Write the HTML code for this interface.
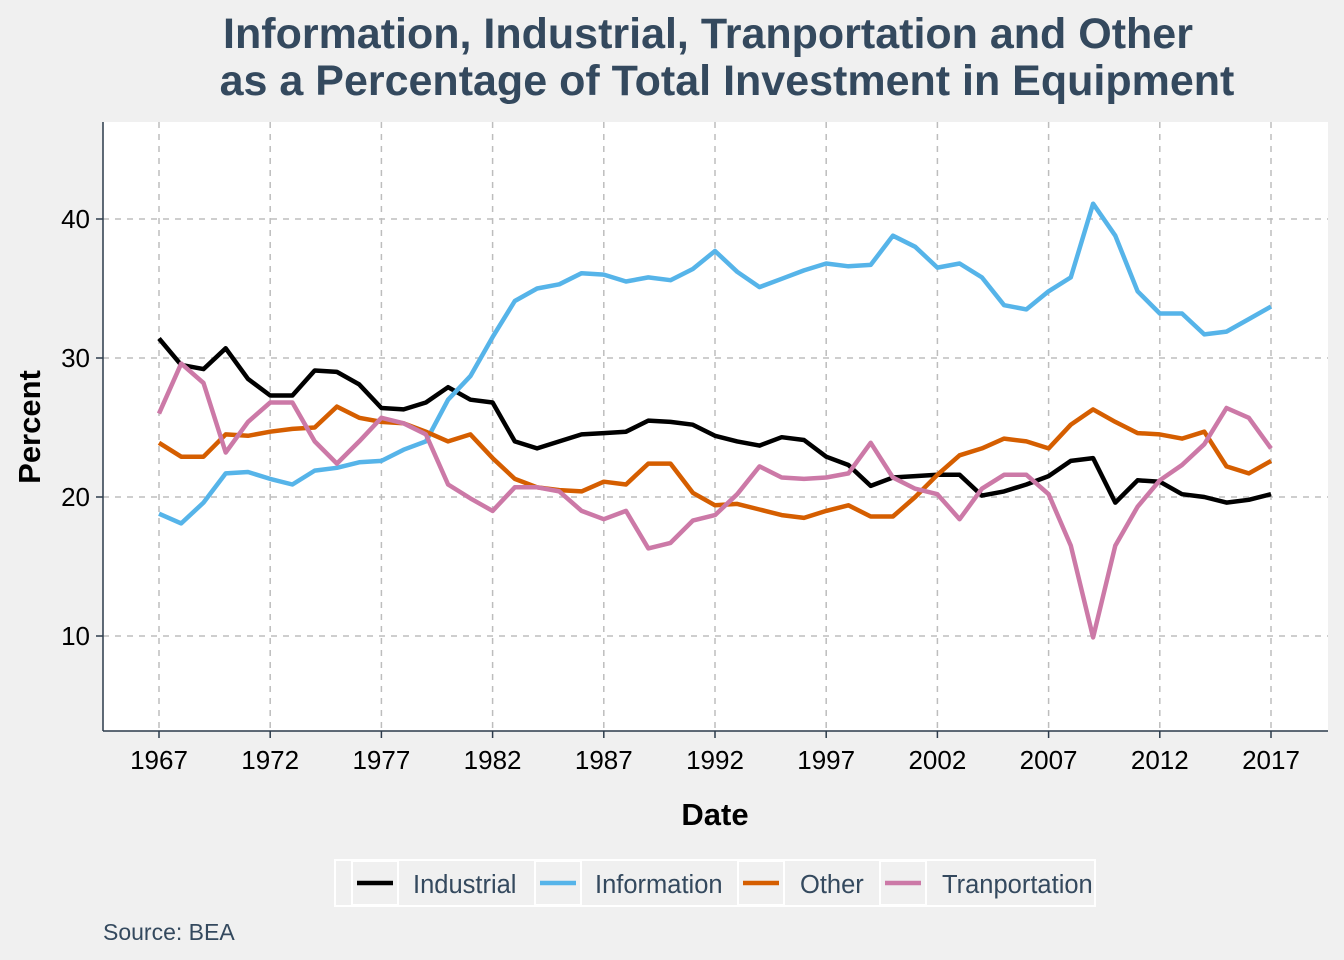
<!DOCTYPE html>
<html><head><meta charset="utf-8"><style>
html,body{margin:0;padding:0;background:#f0f0f0;}
svg{display:block;font-family:"Liberation Sans",Arial,sans-serif;}
</style></head><body>
<svg id="chart" width="1344" height="960" viewBox="0 0 1344 960">
<rect x="0" y="0" width="1344" height="960" fill="#f0f0f0"/>
<text x="708" y="48" text-anchor="middle" font-size="43" font-weight="bold" fill="#34495e">Information, Industrial, Tranportation and Other</text>
<text x="727" y="95" text-anchor="middle" font-size="43" font-weight="bold" fill="#34495e">as a Percentage of Total Investment in Equipment</text>
<rect x="103" y="122" width="1225" height="609" fill="#ffffff"/>
<g id="grid"></g>
<g id="series"></g>
<line x1="103" y1="122" x2="103" y2="731" stroke="#2b3a4a" stroke-width="1.5"/>
<line x1="103" y1="731" x2="1328" y2="731" stroke="#2b3a4a" stroke-width="1.5"/>
<g id="ticks"></g>
<text x="715" y="825" text-anchor="middle" font-size="31" font-weight="bold" fill="#000">Date</text>
<text transform="translate(40,427) rotate(-90)" text-anchor="middle" font-size="31" font-weight="bold" fill="#000">Percent</text>
<g id="legend"></g>
<text x="103" y="940" font-size="23" fill="#34495e">Source: BEA</text>
</svg>
<script>
const years = [];
for (let y = 1967; y <= 2017; y++) years.push(y);
const industrial = [31.4,29.5,29.2,30.7,28.5,27.3,27.3,29.1,29.0,28.1,26.4,26.3,26.8,27.9,27.0,26.8,24.0,23.5,24.0,24.5,24.6,24.7,25.5,25.4,25.2,24.4,24.0,23.7,24.3,24.1,22.9,22.3,20.8,21.4,21.5,21.6,21.6,20.1,20.4,20.9,21.5,22.6,22.8,19.6,21.2,21.1,20.2,20.0,19.6,19.8,20.2];
const information = [18.8,18.1,19.6,21.7,21.8,21.3,20.9,21.9,22.1,22.5,22.6,23.4,24.0,27.0,28.7,31.5,34.1,35.0,35.3,36.1,36.0,35.5,35.8,35.6,36.4,37.7,36.2,35.1,35.7,36.3,36.8,36.6,36.7,38.8,38.0,36.5,36.8,35.8,33.8,33.5,34.8,35.8,41.1,38.8,34.8,33.2,33.2,31.7,31.9,32.8,33.7];
const other = [23.9,22.9,22.9,24.5,24.4,24.7,24.9,25.0,26.5,25.7,25.4,25.3,24.7,24.0,24.5,22.8,21.3,20.7,20.5,20.4,21.1,20.9,22.4,22.4,20.3,19.4,19.5,19.1,18.7,18.5,19.0,19.4,18.6,18.6,20.0,21.6,23.0,23.5,24.2,24.0,23.5,25.2,26.3,25.4,24.6,24.5,24.2,24.7,22.2,21.7,22.6];
const transportation = [26.0,29.6,28.2,23.2,25.4,26.8,26.8,24.0,22.4,24.0,25.7,25.3,24.5,20.9,19.9,19.0,20.7,20.7,20.4,19.0,18.4,19.0,16.3,16.7,18.3,18.7,20.2,22.2,21.4,21.3,21.4,21.7,23.9,21.4,20.6,20.2,18.4,20.6,21.6,21.6,20.2,16.5,9.9,16.5,19.3,21.2,22.3,23.8,26.4,25.7,23.5];
const xTicks = [1967,1972,1977,1982,1987,1992,1997,2002,2007,2012,2017];
const yTicks = [10,20,30,40];
const seriesNames = ["Industrial","Information","Other","Tranportation"];
const seriesColors = ["#000000","#56b4e9","#d55e00","#cc79a7"];
const seriesData = [industrial, information, other, transportation];

const NS = "http://www.w3.org/2000/svg";
const xScale = y => 159 + (y - 1967) * (1271 - 159) / 50;
const yScale = v => 497 - (v - 20) * 13.9;
function mk(tag, attrs, parent) {
  const e = document.createElementNS(NS, tag);
  for (const k in attrs) e.setAttribute(k, attrs[k]);
  parent.appendChild(e);
  return e;
}
const grid = document.getElementById("grid");
const ticks = document.getElementById("ticks");
xTicks.forEach(t => {
  const l = mk("line", {x1: xScale(t), x2: xScale(t), y1: 122, y2: 731, stroke: "#bdbdbd", "stroke-width": 1.5, "stroke-dasharray": "6,6"}, grid);
  
  
  const tk = mk("line", {x1: xScale(t), x2: xScale(t), y1: 731, y2: 738, stroke: "#2b3a4a", "stroke-width": 1.5}, ticks);
  
  
  const tx = mk("text", {x: xScale(t), y: 769, "text-anchor": "middle", "font-size": 26, fill: "#000"}, ticks);
  tx.textContent = t;
  
  
});
yTicks.forEach(t => {
  const l = mk("line", {x1: 103, x2: 1328, y1: yScale(t), y2: yScale(t), stroke: "#bdbdbd", "stroke-width": 1.5, "stroke-dasharray": "6,6"}, grid);
  
  
  const tk = mk("line", {x1: 96, x2: 103, y1: yScale(t), y2: yScale(t), stroke: "#2b3a4a", "stroke-width": 1.5}, ticks);
  
  
  const tx = mk("text", {x: 90, y: yScale(t) + 9, "text-anchor": "end", "font-size": 26, fill: "#000"}, ticks);
  tx.textContent = t;
  
  
});
const sg = document.getElementById("series");
seriesData.forEach((d, i) => {
  const pts = d.map((v, j) => xScale(years[j]).toFixed(1) + "," + yScale(v).toFixed(1)).join(" ");
  const p = mk("polyline", {points: pts, fill: "none", stroke: seriesColors[i], "stroke-width": 4.5, "stroke-linejoin": "round"}, sg);
  
  
});
const lg = document.getElementById("legend");
const box = mk("rect", {x: 335, y: 860, width: 760, height: 46, fill: "#f0f0f0", stroke: "#ffffff", "stroke-width": 2}, lg);


const keyX = [352, 535, 738, 880];
const boxW = [46, 46, 46, 46];
const textX = [413, 595, 800, 942];
seriesNames.forEach((n, i) => {
  const kb = mk("rect", {x: keyX[i], y: 861, width: boxW[i], height: 44, fill: "#f0f0f0", stroke: "#ffffff", "stroke-width": 2}, lg);
  
  
  const kl = mk("line", {x1: keyX[i] + 5, x2: keyX[i] + 41, y1: 883, y2: 883, stroke: seriesColors[i], "stroke-width": 4.5}, lg);
  
  
  const t = mk("text", {x: textX[i], y: 893, "font-size": 25.5, fill: "#34495e"}, lg);
  t.textContent = n;
  
  
});
</script>
</body></html>
